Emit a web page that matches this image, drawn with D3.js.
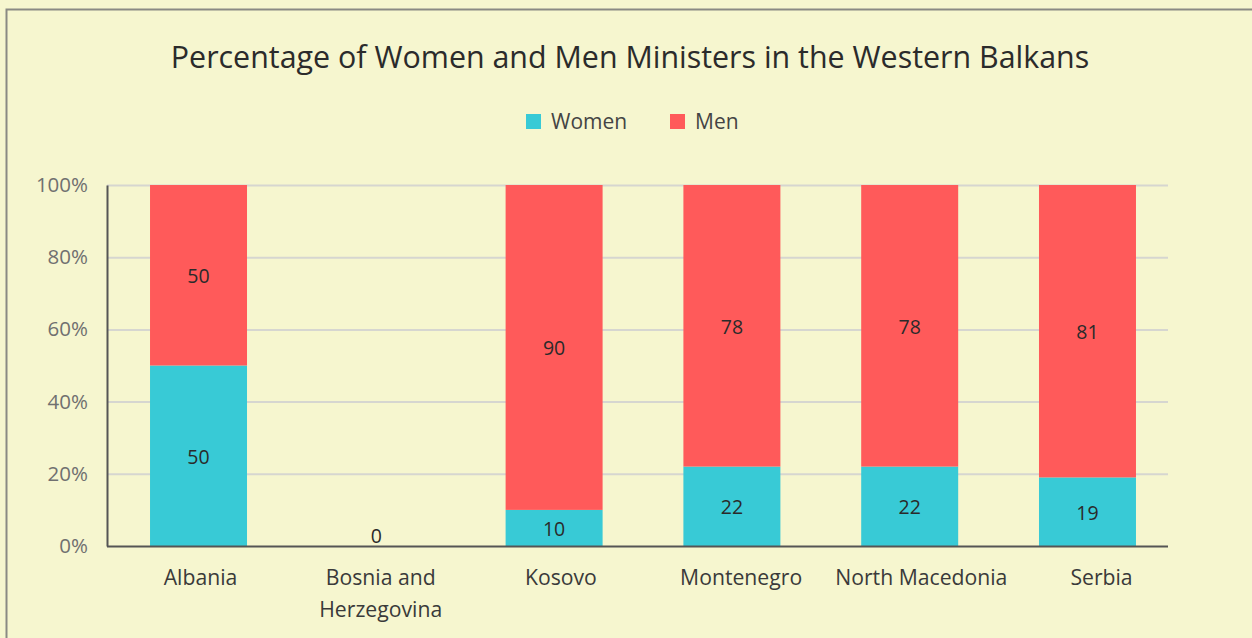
<!DOCTYPE html>
<html>
<head>
<meta charset="utf-8">
<script src="https://cdnjs.cloudflare.com/ajax/libs/d3/7.8.5/d3.min.js"></script>
<style>
  html, body { margin: 0; padding: 0; background: #f6f6cf; }
  svg { display: block; font-family: "Open Sans", sans-serif; }
</style>
</head>
<body>
<div id="chart"></div>
<script>
var countries = ["Albania", "Bosnia and Herzegovina", "Kosovo", "Montenegro", "North Macedonia", "Serbia"];
var women = [50, 0, 10, 22, 22, 19];
var men = [50, 0, 90, 78, 78, 81];
var yTicks = [0, 20, 40, 60, 80, 100];

var w = 1252, h = 638;
var margin = {left: 107, right: 84, top: 185, bottom: 92};
var colors = {Women: "#38cad6", Men: "#ff5a5a"};

var svg = d3.select("#chart").append("svg")
    .attr("width", w)
    .attr("height", h);

svg.append("rect")
    .attr("x", 6.5).attr("y", 9.5)
    .attr("width", w).attr("height", h)
    .attr("fill", "#f6f6cf")
    .attr("stroke", "#8a8a84")
    .attr("stroke-width", 2);

svg.append("text")
    .attr("x", 630).attr("y", 68)
    .attr("text-anchor", "middle")
    .attr("font-size", 30.4)
    .attr("fill", "#2b2b2b")
    .text("Percentage of Women and Men Ministers in the Western Balkans");

var x = d3.scaleBand()
    .domain(countries)
    .range([margin.left, 1179])
    .paddingInner(0.4545)
    .paddingOuter(0.242);

// category labels sit on a slightly wider spacing than the bars
var xLabel = d3.scalePoint()
    .domain(countries)
    .range([200, 1101]);

var y = d3.scaleLinear()
    .domain([0, 100])
    .range([h - margin.bottom, margin.top]);

// gridlines
svg.append("g")
    .selectAll("line")
    .data(yTicks.slice(1))
    .enter()
    .append("line")
    .attr("x1", margin.left).attr("x2", w - margin.right)
    .attr("y1", function(d){ return y(d) + 0.5; })
    .attr("y2", function(d){ return y(d) + 0.5; })
    .attr("stroke", "#d6d6d0")
    .attr("stroke-width", 2);

// y axis
var yAxis = svg.append("g")
    .attr("transform", "translate(" + margin.left + ",0)")
    .call(d3.axisLeft(y).tickValues(yTicks).tickSize(0).tickPadding(19)
        .tickFormat(function(d){ return d + "%"; }));
yAxis.select(".domain").attr("stroke", "#555").attr("stroke-width", 2);
yAxis.selectAll("text").attr("font-size", 20.5).attr("fill", "#707070")
    .attr("font-family", "Open Sans, sans-serif");

var rows = countries.map(function(c, i){
    return {country: c, Women: women[i], Men: men[i]};
});
var stack = d3.stack().keys(["Women", "Men"])(rows);

var layer = svg.append("g")
    .selectAll("g")
    .data(stack)
    .enter()
    .append("g")
    .attr("fill", function(d){ return colors[d.key]; });

layer.selectAll("rect")
    .data(function(d){ return d; })
    .enter()
    .append("rect")
    .attr("x", function(d){ return x(d.data.country); })
    .attr("y", function(d){ return y(d[1]); })
    .attr("width", x.bandwidth())
    .attr("height", function(d){ return y(d[0]) - y(d[1]); });

// value labels
layer.selectAll("text")
    .data(function(d){ return d.filter(function(s){ return s[1] - s[0] > 0; }); })
    .enter()
    .append("text")
    .attr("x", function(d){ return x(d.data.country) + x.bandwidth() / 2; })
    .attr("y", function(d){ return (y(d[0]) + y(d[1])) / 2 + 8; })
    .attr("text-anchor", "middle")
    .attr("font-size", 19.5)
    .attr("fill", "#2a2a2a")
    .text(function(d){ return d[1] - d[0]; });

// zero label
svg.append("g")
    .selectAll("text")
    .data(rows.filter(function(r){ return r.Women + r.Men === 0; }))
    .enter()
    .append("text")
    .attr("x", function(d){ return x(d.country) + x.bandwidth() / 2; })
    .attr("y", y(0) - 3)
    .attr("text-anchor", "middle")
    .attr("font-size", 19.5)
    .attr("fill", "#2a2a2a")
    .text(0);

// x axis
var xAxis = svg.append("g")
    .attr("transform", "translate(0," + y(0) + ")")
    .call(d3.axisBottom(xLabel).tickSize(0).tickPadding(0));
xAxis.select(".domain").attr("stroke", "#555").attr("stroke-width", 2)
    .attr("d", "M" + margin.left + ",0.5H" + (w - margin.right));
xAxis.selectAll(".tick text").remove();
xAxis.selectAll(".tick").each(function(d){
    var t = d3.select(this).append("text")
        .attr("text-anchor", "middle")
        .attr("font-size", 21.2)
        .attr("fill", "#3a3a3a")
        .attr("font-family", "Open Sans, sans-serif");
    var lines = d === "Bosnia and Herzegovina" ? ["Bosnia and", "Herzegovina"] : [d];
    lines.forEach(function(l, i){
        t.append("tspan").attr("x", 0).attr("y", 39 + i * 31.5).text(l);
    });
});

// legend
var legendItems = [{key: "Women", x: 526}, {key: "Men", x: 670}];
var lg = svg.append("g")
    .selectAll("g")
    .data(legendItems)
    .enter()
    .append("g")
    .attr("transform", function(d){ return "translate(" + d.x + ",114)"; });
lg.append("rect")
    .attr("width", 15).attr("height", 15)
    .attr("fill", function(d){ return colors[d.key]; });
lg.append("text")
    .attr("x", 25).attr("y", 15)
    .attr("font-size", 21)
    .attr("fill", "#444")
    .text(function(d){ return d.key; });
</script>
</body>
</html>
